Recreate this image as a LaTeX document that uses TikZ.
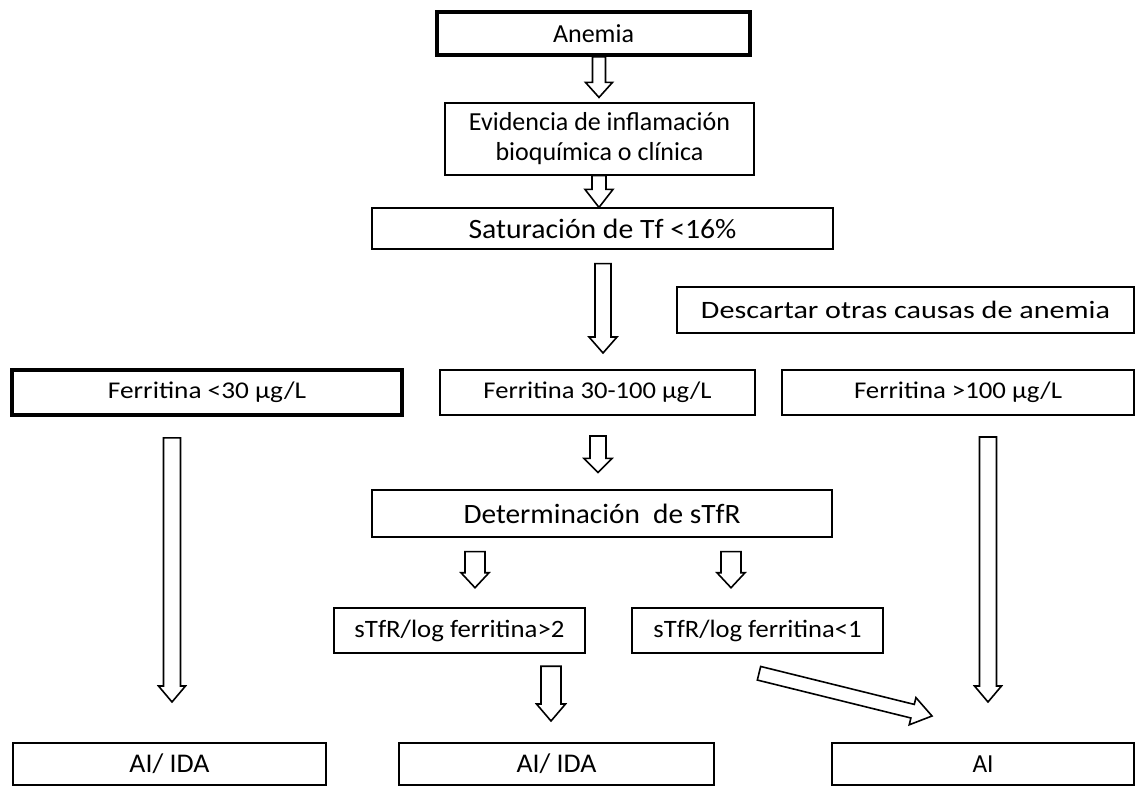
\documentclass[tikz,border=0pt]{standalone}
\usepackage{fontspec}
\setmainfont{Carlito}
\usepackage{graphicx}
\usetikzlibrary{calc}
\newcommand{\tw}[3]{\resizebox{#1bp}{\height}{\fontsize{#2bp}{#2bp}\selectfont #3}}
\newcommand{\barrow}[5]{%
  \path ($(#2)!#5!(#1)$) coordinate (bh);
  \draw[blk] ($(#1)!#3!90:(#2)$) -- ($(bh)!#3!-90:(#1)$) -- ($(bh)!#4!-90:(#1)$) -- (#2)
     -- ($(bh)!#4!90:(#1)$) -- ($(bh)!#3!90:(#1)$) -- ($(#1)!#3!-90:(#2)$) -- cycle;}
\begin{document}
\begin{tikzpicture}[x=1bp,y=-1bp,
  box/.style={draw=black, rectangle, inner sep=0pt, fill=white, text=black},
  thin/.style={line width=1.2bp},
  mid/.style={line width=2bp},
  thick/.style={line width=3.8bp},
  blk/.style={draw=black, fill=white, line width=1.6bp, line join=miter}]
\useasboundingbox (0,0) rectangle (1136,786);
\fill[white] (0,0) rectangle (1136,786);

% boxes
\node[box, line width=3.5bp, minimum width=313bp, minimum height=43bp] (anemia) at (593.5,33.5) {\tw{81}{26}{Anemia}};
\node[box, thin, minimum width=309bp, minimum height=72bp, align=center,
      font=\fontsize{26bp}{30bp}\selectfont] (evid) at (599.5,139) {Evidencia de inflamación\\bioquímica o clínica};
\node[box, thin, minimum width=461bp, minimum height=41bp] (satur) at (602.5,228.5) {\tw{268}{28}{Saturación de Tf <16\%}};
\node[box, thin, minimum width=457bp, minimum height=46bp] (desc) at (905.5,310) {\tw{409}{25}{Descartar otras causas de anemia}};
\node[box, thick, minimum width=390bp, minimum height=45bp] (f30) at (207,392.5) {\tw{198}{24}{Ferritina <30 µg/L}};
\node[box, mid, minimum width=315bp, minimum height=45bp] (fmid) at (597.5,392.5) {\tw{228}{24}{Ferritina 30-100 µg/L}};
\node[box, mid, minimum width=352bp, minimum height=45bp] (f100) at (958,392.5) {\tw{208}{24}{Ferritina >100 µg/L}};
\node[box, thin, minimum width=460bp, minimum height=47bp] (det) at (602,513.5) {\tw{277}{28}{Determinación\hspace{0.45em}de sTfR}};
\node[box, line width=2.5bp, minimum width=251bp, minimum height=45bp] (s2) at (459.5,630.5) {\tw{210}{25}{sTfR/log ferritina>2}};
\node[box, line width=2.5bp, minimum width=251bp, minimum height=45bp] (s1) at (757.5,630.5) {\tw{208}{25}{sTfR/log ferritina<1}};
\node[box, mid, minimum width=313bp, minimum height=42bp] (b1) at (169.5,764) {\tw{80}{27}{AI/ IDA}};
\node[box, mid, minimum width=315bp, minimum height=42bp] (b2) at (556.5,764) {\tw{80}{27}{AI/ IDA}};
\node[box, mid, minimum width=302bp, minimum height=42bp] (b3) at (983,764) {\tw{21}{26}{AI}};

% arrow end points
\coordinate (t1) at ($(evid.north)+(-0.5,-5)$);
\coordinate (o1) at (t1 |- anemia.south);
\coordinate (t2) at ($(satur.north)+(-3.5,0)$);
\coordinate (o2) at (t2 |- evid.south);
\coordinate (t3) at ($(fmid.north)+(5.5,-16)$);
\coordinate (o3) at ($(t3 |- satur.south)+(0,14)$);
\coordinate (t4) at ($(det.north)+(-4,-17)$);
\coordinate (o4) at ($(t4 |- fmid.south)+(0,20)$);
\coordinate (t5) at ($(s2.north)+(15.5,-19)$);
\coordinate (o5) at ($(t5 |- det.south)+(0,14)$);
\coordinate (t6) at ($(s1.north)+(-26.5,-19)$);
\coordinate (o6) at ($(t6 |- det.south)+(0,14)$);
\coordinate (t7) at ($(b2.north)+(-5.5,-21)$);
\coordinate (o7) at ($(t7 |- s2.south)+(0,12)$);
\coordinate (o8) at ($(s1.south)+(1.5,19)$);
\coordinate (t8) at ($(b3.north)+(-51,-26)$);
\coordinate (t9) at ($(b1.north)+(2.5,-40)$);
\coordinate (o9) at ($(t9 |- f30.south)+(0,21)$);
\coordinate (t10) at ($(b3.north)+(5,-40)$);
\coordinate (o10) at ($(t10 |- f100.south)+(0,21)$);

% block arrows
\barrow{o1}{t1}{6.5bp}{13.5bp}{15bp}
\barrow{o2}{t2}{7bp}{14bp}{18bp}
\barrow{o3}{t3}{8bp}{14bp}{16bp}
\barrow{o4}{t4}{8bp}{14bp}{14bp}
\barrow{o5}{t5}{10bp}{14bp}{15bp}
\barrow{o6}{t6}{10bp}{14bp}{15bp}
\barrow{o7}{t7}{10bp}{14.5bp}{17bp}
\barrow{o8}{t8}{7bp}{14bp}{20bp}
\barrow{o9}{t9}{8.5bp}{13.5bp}{16bp}
\barrow{o10}{t10}{8.5bp}{13.5bp}{16bp}
\end{tikzpicture}
\end{document}
